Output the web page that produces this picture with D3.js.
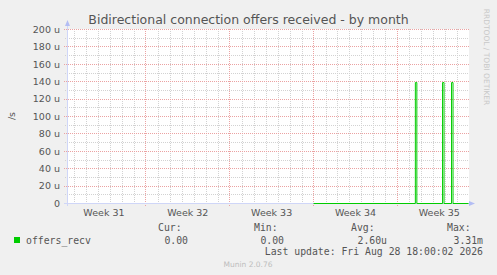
<!DOCTYPE html>
<html>
<head>
<meta charset="utf-8">
<script src="https://cdn.jsdelivr.net/npm/d3@7"></script>
<style>
  html, body { margin: 0; padding: 0; background: #F0F0F0; }
  svg { display: block; }
</style>
</head>
<body>
<svg id="chart" width="497" height="275"></svg>
<script>
// ---- data ----
const title = "Bidirectional connection offers received - by month";
const yUnitLabel = "/s";

// time window shown (UTC)
const windowStart = "2026-07-27T11:00:00Z";
const windowEnd = "2026-08-29T22:30:00Z";

// week labels and the Monday each week starts on
const weekLabels = ["Week 31", "Week 32", "Week 33", "Week 34", "Week 35"];
const weekStarts = ["2026-07-27", "2026-08-03", "2026-08-10", "2026-08-17", "2026-08-24"];

// y ticks (per second) and their labels
const yTicks = [0, 20e-6, 40e-6, 60e-6, 80e-6, 100e-6, 120e-6, 140e-6, 160e-6, 180e-6, 200e-6];
const yTickLabels = ["0", "20 u", "40 u", "60 u", "80 u", "100 u", "120 u", "140 u", "160 u", "180 u", "200 u"];

// offers_recv samples: step values, null = no data
const sampleTimes = [
  "2026-08-03T13:00:00Z", "2026-08-03T15:00:00Z",
  "2026-08-17T00:00:00Z",
  "2026-08-25T12:00:00Z", "2026-08-25T15:00:00Z",
  "2026-08-27T18:30:00Z", "2026-08-27T21:30:00Z",
  "2026-08-28T12:30:00Z", "2026-08-28T15:30:00Z",
  "2026-08-29T22:30:00Z"
];
const sampleValues = [
  0, null,
  0,
  139e-6, 0,
  139e-6, 0,
  139e-6, 0,
  0
];

// legend
const seriesName = "offers_recv";
const statHeaders = ["Cur:", "Min:", "Avg:", "Max:"];
const statValues = ["0.00", "0.00", "2.60u", "3.31m"];
const lastUpdate = "Last update: Fri Aug 28 18:00:02 2026";
const footer = "Munin 2.0.76";
const sideNote = "RRDTOOL / TOBI OETIKER";

// ---- drawing ----
const svg = d3.select("#chart");
const W = 497, H = 275;
const plot = { left: 67, right: 468, top: 29, bottom: 203 };

const x = d3.scaleUtc()
  .domain([new Date(windowStart), new Date(windowEnd)])
  .range([plot.left + 0.5, plot.right + 0.5]);
const y = d3.scaleLinear()
  .domain([0, 200e-6])
  .range([plot.bottom + 0.5, plot.top + 0.5]);

const FONT = "'DejaVu Sans', sans-serif";
const MONO = "'DejaVu Sans Mono', monospace";
const textColor = "#555";
const minorGrid = "#d2d2d2";
const majorGrid = "#eba2a2";
const axisColor = "#CFD6F8";
const arrowColor = "#b3bdf4";

svg.append("rect").attr("width", W).attr("height", H).attr("fill", "#F0F0F0");
svg.append("rect")
  .attr("x", plot.left).attr("y", plot.top)
  .attr("width", plot.right - plot.left + 1).attr("height", plot.bottom - plot.top)
  .attr("fill", "#fff");

const grid = svg.append("g").attr("shape-rendering", "crispEdges");

// minor vertical grid: one per day
const days = d3.utcDay.range(x.domain()[0], x.domain()[1]);
const weekSet = new Set(weekStarts.map(d => +new Date(d + "T00:00:00Z")));
grid.selectAll("line.vminor")
  .data(days.filter(d => !weekSet.has(+d)))
  .join("line")
  .attr("x1", d => Math.round(x(d)) + 0.5).attr("x2", d => Math.round(x(d)) + 0.5)
  .attr("y1", plot.top).attr("y2", plot.bottom + 2)
  .attr("stroke", minorGrid).attr("stroke-dasharray", "1,1");

// minor horizontal grid: every 10 u
const minorY = d3.range(1, 20, 2).map(i => i * 10e-6);
grid.selectAll("line.hminor")
  .data(minorY)
  .join("line")
  .attr("x1", plot.left - 2).attr("x2", plot.right + 1)
  .attr("y1", d => Math.round(y(d) - 0.5) + 0.5).attr("y2", d => Math.round(y(d) - 0.5) + 0.5)
  .attr("stroke", minorGrid).attr("stroke-dasharray", "1,1");

// major vertical grid: week starts
grid.selectAll("line.vmajor")
  .data(weekStarts.map(d => new Date(d + "T00:00:00Z")).filter(d => x(d) > plot.left))
  .join("line")
  .attr("x1", d => Math.round(x(d) - 0.5) + 0.5).attr("x2", d => Math.round(x(d) - 0.5) + 0.5)
  .attr("y1", plot.top).attr("y2", plot.bottom + 3)
  .attr("stroke", majorGrid).attr("stroke-dasharray", "1,1");

// major horizontal grid: labelled ticks
grid.selectAll("line.hmajor")
  .data(yTicks.slice(1))
  .join("line")
  .attr("x1", plot.left - 3).attr("x2", plot.right + 1)
  .attr("y1", d => Math.round(y(d) - 0.5) + 0.5).attr("y2", d => Math.round(y(d) - 0.5) + 0.5)
  .attr("stroke", majorGrid).attr("stroke-dasharray", "1,1");

// axes
const axes = svg.append("g").attr("shape-rendering", "crispEdges");
axes.append("line")
  .attr("x1", plot.left + 0.5).attr("x2", plot.left + 0.5)
  .attr("y1", plot.bottom + 3).attr("y2", plot.top - 4)
  .attr("stroke", axisColor);
axes.append("line")
  .attr("x1", plot.left - 3).attr("x2", plot.right + 2)
  .attr("y1", plot.bottom + 0.5).attr("y2", plot.bottom + 0.5)
  .attr("stroke", axisColor);
svg.append("path")
  .attr("d", `M${plot.left - 2},${plot.top - 3} L${plot.left + 0.5},${plot.top - 9} L${plot.left + 3},${plot.top - 3} Z`)
  .attr("fill", arrowColor);
svg.append("path")
  .attr("d", `M${plot.right + 1},${plot.bottom - 2} L${plot.right + 7},${plot.bottom + 0.5} L${plot.right + 1},${plot.bottom + 3} Z`)
  .attr("fill", arrowColor);

// series line
const samples = sampleTimes.map((t, i) => ({ t: new Date(t), v: sampleValues[i] }));
const line = d3.line()
  .defined(d => d.v != null)
  .x(d => x(d.t))
  .y(d => y(d.v))
  .curve(d3.curveStepAfter);
svg.append("path")
  .datum(samples)
  .attr("d", line)
  .attr("fill", "none")
  .attr("stroke", "#00CC00")
  .attr("stroke-width", 1);

// y tick labels
svg.selectAll("text.ylab")
  .data(yTicks)
  .join("text")
  .attr("x", 60).attr("y", d => y(d) + 3.3)
  .attr("text-anchor", "end")
  .attr("font-family", FONT).attr("font-size", 9.5)
  .attr("fill", textColor)
  .text((d, i) => yTickLabels[i]);

// x week labels, centred mid-week
svg.selectAll("text.xlab")
  .data(weekStarts)
  .join("text")
  .attr("x", d => x(d3.utcHour.offset(new Date(d + "T00:00:00Z"), 84)))
  .attr("y", 216)
  .attr("text-anchor", "middle")
  .attr("font-family", FONT).attr("font-size", 9.5)
  .attr("fill", textColor)
  .text((d, i) => weekLabels[i]);

// title
svg.append("text")
  .attr("x", 248.5).attr("y", 24)
  .attr("text-anchor", "middle")
  .attr("font-family", FONT).attr("font-size", 12.5)
  .attr("fill", textColor)
  .text(title);

// unit label
svg.append("text")
  .attr("transform", "translate(15,116) rotate(-90)")
  .attr("text-anchor", "middle")
  .attr("font-family", FONT).attr("font-size", 9.5)
  .attr("fill", textColor)
  .text(yUnitLabel);

// side note
svg.append("text")
  .attr("transform", "translate(483.5,57) rotate(90)")
  .attr("text-anchor", "middle")
  .attr("font-family", FONT).attr("font-size", 7.5)
  .attr("fill", "#c8c8c8")
  .text(sideNote);

// legend
const legend = svg.append("g")
  .attr("font-family", MONO).attr("font-size", 9.8)
  .attr("fill", textColor)
  .attr("xml:space", "preserve");
legend.append("rect")
  .attr("x", 14).attr("y", 237).attr("width", 6).attr("height", 6)
  .attr("fill", "#00CC00");
legend.append("text").attr("x", 26).attr("y", 243.5).text(seriesName);
const headerX = [158, 254, 351, 447];
const valueEndX = [188, 284, 387, 483];
statHeaders.forEach((h, i) => {
  legend.append("text").attr("x", headerX[i]).attr("y", 231).text(h);
  legend.append("text").attr("x", valueEndX[i]).attr("y", 243.5)
    .attr("text-anchor", "end").text(statValues[i]);
});
legend.append("text").attr("x", 483).attr("y", 255.3)
  .attr("text-anchor", "end").text(lastUpdate);

svg.append("text")
  .attr("x", 248).attr("y", 266.7)
  .attr("text-anchor", "middle")
  .attr("font-family", FONT).attr("font-size", 7.5)
  .attr("fill", "#bdbdbd")
  .text(footer);
</script>
</body>
</html>
